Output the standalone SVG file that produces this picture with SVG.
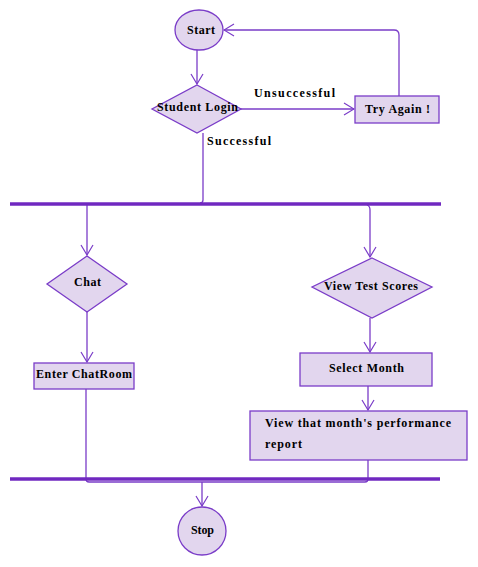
<svg xmlns="http://www.w3.org/2000/svg" width="478" height="567" viewBox="0 0 478 567">
<defs>
<marker id="arr" markerWidth="12" markerHeight="14" refX="11" refY="7" orient="auto" markerUnits="userSpaceOnUse">
<path d="M1,1 L11,7 L1,13" fill="none" stroke="#7a3cc8" stroke-width="1.2"/>
</marker>
</defs>
<style>
.n{fill:#e2d6ee;stroke:#7a3cc8;stroke-width:1.3}
.c{fill:none;stroke:#7a3cc8;stroke-width:1.3}
.bar{stroke:#7028c0;stroke-width:3.5}
text{font-family:"Liberation Serif","DejaVu Serif",serif;font-weight:bold;font-size:12px;fill:#000}
</style>
<g id="connectors">
<path class="c" d="M197,50 V84" marker-end="url(#arr)"/>
<path class="c" d="M240,109 H354" marker-end="url(#arr)"/>
<path class="c" d="M399,96 V35 Q399,30 394,30 H224" marker-end="url(#arr)"/>
<path class="c" d="M203,133 V200 Q203,203 200,203"/>
<path class="c" d="M87,205 V255" marker-end="url(#arr)"/>
<path class="c" d="M367,205 Q370,206 370,210 V257" marker-end="url(#arr)"/>
<path class="c" d="M87,312 V362" marker-end="url(#arr)"/>
<path class="c" d="M370,318 V352" marker-end="url(#arr)"/>
<path class="c" d="M368,386 V410" marker-end="url(#arr)"/>
<path class="c" d="M86,389 V479 Q86,482 89,482 H365 Q368,482 368,479 V460"/>
<path class="c" d="M202,482 V506" marker-end="url(#arr)"/>
<text x="254" y="97" textLength="81" lengthAdjust="spacing">Unsuccessful</text>
<text x="207" y="145" textLength="64" lengthAdjust="spacing">Successful</text>
</g>
<g id="fork"><line class="bar" x1="10" y1="204" x2="441" y2="204"/></g>
<g id="join"><line class="bar" x1="10" y1="479" x2="440" y2="479"/></g>
<g id="start"><ellipse class="n" cx="199" cy="30" rx="24" ry="20"/><text x="187" y="34" textLength="28" lengthAdjust="spacing">Start</text></g>
<g id="login"><polygon class="n" points="197,85 241,109 197,133 152,109"/><text x="157" y="111" textLength="81" lengthAdjust="spacing">Student Login</text></g>
<g id="tryagain"><rect class="n" x="355" y="96" width="84" height="27"/><text x="365" y="113" textLength="65" lengthAdjust="spacing">Try Again  !</text></g>
<g id="chat"><polygon class="n" points="87,256 127,284 87,312 47,284"/><text x="74" y="286" textLength="27" lengthAdjust="spacing">Chat</text></g>
<g id="viewscores"><polygon class="n" points="372,258 432,287 372,318 312,287"/><text x="324" y="290" textLength="94" lengthAdjust="spacing">View Test Scores</text></g>
<g id="chatroom"><rect class="n" x="34" y="363" width="100" height="26"/><text x="36" y="378" textLength="96" lengthAdjust="spacing">Enter ChatRoom</text></g>
<g id="selectmonth"><rect class="n" x="300" y="353" width="132" height="33"/><text x="329" y="372" textLength="75" lengthAdjust="spacing">Select Month</text></g>
<g id="report"><rect class="n" x="250" y="411" width="217" height="49"/><text x="265" y="427" textLength="186" lengthAdjust="spacing">View that month's performance</text><text x="265" y="448" textLength="37" lengthAdjust="spacing">report</text></g>
<g id="stop"><circle class="n" cx="202" cy="531" r="24"/><text x="191" y="534" textLength="23" lengthAdjust="spacing">Stop</text></g>
</svg>
